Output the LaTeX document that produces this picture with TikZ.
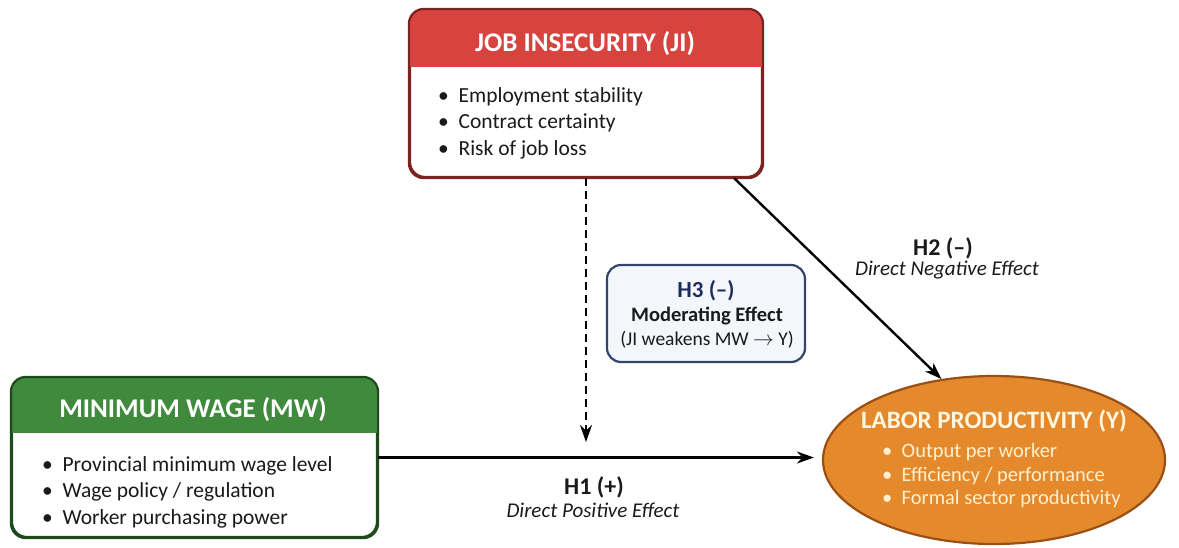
\documentclass[tikz,border=0pt]{standalone}
\usepackage{fontspec}
\setmainfont{Carlito}
\usetikzlibrary{shapes.geometric,arrows.meta,calc}
\definecolor{jired}{HTML}{D7443F}
\definecolor{jiborder}{HTML}{7A2320}
\definecolor{mwgreen}{HTML}{3F8A3C}
\definecolor{mwborder}{HTML}{1E4A1E}
\definecolor{yorange}{HTML}{E58A2C}
\definecolor{yborder}{HTML}{9A4F14}
\definecolor{ycream}{HTML}{FFF1CF}
\definecolor{hfill}{HTML}{F3F7FC}
\definecolor{hborder}{HTML}{34446A}
\definecolor{hnavy}{HTML}{1E2C5C}
\definecolor{txt}{HTML}{1A1A1A}
\tikzset{
  varbox/.style={rectangle, rounded corners=15pt, line width=2.2pt, fill=white, inner sep=0pt},
  headtxt/.style={text=white, font=\bfseries\fontsize{27}{29}\selectfont},
  bullets/.style={anchor=west, align=left, text=txt, inner sep=0pt, font=\fontsize{21.5}{26.5}\selectfont},
  arr/.style={line width=2.4pt, -{Stealth[length=17pt,width=12pt]}},
  lbl/.style={text=txt, align=center, inner sep=0pt},
}
\begin{document}
\begin{tikzpicture}[x=1pt,y=-1pt]
\useasboundingbox (0,0) rectangle (1179,547);
% Job insecurity
\node[varbox, draw=jiborder, minimum width=352pt, minimum height=167pt] (ji) at (586,93.5) {};
\begin{scope}
\clip[rounded corners=15pt] (ji.south west) rectangle (ji.north east);
\fill[jired] (ji.north west) rectangle ($(ji.north east)+(0,58)$);
\end{scope}
\draw[jiborder, line width=2.2pt, rounded corners=15pt] (ji.south west) rectangle (ji.north east);
\node[headtxt] (jih) at (585,44) {JOB INSECURITY (JI)};
\node[bullets] (jib) at (438,123) {\textbullet\ \ Employment stability\\ \textbullet\ \ Contract certainty\\ \textbullet\ \ Risk of job loss};
% Minimum wage
\node[varbox, draw=mwborder, minimum width=365pt, minimum height=159pt] (mw) at (194.5,457.5) {};
\begin{scope}
\clip[rounded corners=15pt] (mw.south west) rectangle (mw.north east);
\fill[mwgreen] (mw.north west) rectangle ($(mw.north east)+(0,56)$);
\end{scope}
\draw[mwborder, line width=2.2pt, rounded corners=15pt] (mw.south west) rectangle (mw.north east);
\node[headtxt] (mwh) at (193,410) {MINIMUM WAGE (MW)};
\node[bullets] (mwb) at (42,492) {\textbullet\ \ Provincial minimum wage level\\ \textbullet\ \ Wage policy / regulation\\ \textbullet\ \ Worker purchasing power};
% Labor productivity
\node[ellipse, draw=yborder, fill=yorange, line width=2.2pt, minimum width=342pt, minimum height=168pt, inner sep=0pt] (y) at (994,460) {};
\node[text=ycream!60!white, font=\bfseries\fontsize{25}{27}\selectfont] (yh) at (994,421) {LABOR PRODUCTIVITY (Y)};
\node[bullets, text=ycream, font=\fontsize{20.5}{23.5}\selectfont] (yb) at (882,476) {\textbullet\ \ Output per worker\\ \textbullet\ \ Efficiency / performance\\ \textbullet\ \ Formal sector productivity};
% H3 box
\node[rectangle, rounded corners=14pt, draw=hborder, fill=hfill, line width=2.2pt, minimum width=198pt, minimum height=97pt] (h3) at (706,313.5) {};
\node[lbl, text=hnavy, font=\bfseries\fontsize{23}{25}\selectfont] (h3a) at (706,291) {H3 (–)};
\node[lbl, font=\bfseries\fontsize{20.5}{22}\selectfont] (h3b) at (707,316) {Moderating Effect};
\node[lbl, font=\fontsize{19.5}{21}\selectfont] (h3c) at (707,340) {(JI weakens MW $\rightarrow$ Y)};
% connectors
\coordinate (mod) at (586,442);
\draw[arr, dashed, line width=2pt, dash pattern=on 8pt off 5pt] (ji.south) -- (mod);
\draw[arr] (mw.east) -- ($(y.west |- mw.east)+(-8,0)$) coordinate (h1end);
\draw[arr] ($(ji.south east)+(-29,0)$) -- (y.123);
% labels
\node[lbl, font=\bfseries\fontsize{24}{26}\selectfont] (h1a) at (594,487) {H1 (+)};
\node[lbl, font=\itshape\fontsize{21}{23}\selectfont] (h1b) at (593,510) {Direct Positive Effect};
\node[lbl, font=\bfseries\fontsize{24}{26}\selectfont] (h2a) at (943,248) {H2 (–)};
\node[lbl, font=\itshape\fontsize{21}{23}\selectfont] (h2b) at (947,270) {Direct Negative Effect};
\end{tikzpicture}
\end{document}
